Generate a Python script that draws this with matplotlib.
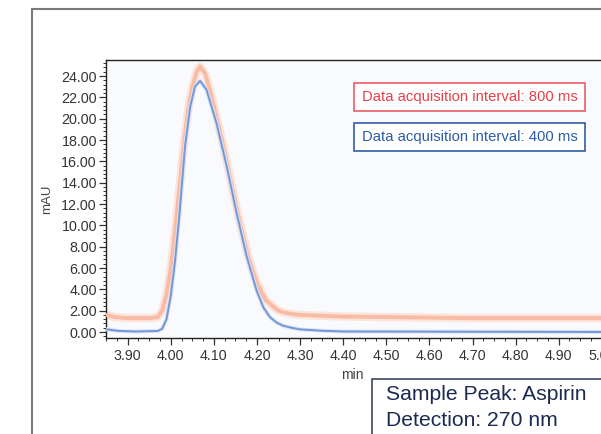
import matplotlib
matplotlib.use("Agg")
import matplotlib.pyplot as plt
from matplotlib.patches import Rectangle
from matplotlib.ticker import MultipleLocator, AutoMinorLocator, FormatStrFormatter

# chromatogram traces (min, mAU)
time_800 = [3.851, 3.87, 3.90, 3.95, 3.97, 3.98, 3.99, 4.00, 4.01, 4.02, 4.03, 4.04,
            4.05, 4.06, 4.068, 4.08, 4.09, 4.10, 4.12, 4.14, 4.16, 4.18, 4.20, 4.22,
            4.24, 4.25, 4.26, 4.28, 4.30, 4.40, 4.50, 4.70, 5.09]
mau_800 = [1.6, 1.4, 1.3, 1.3, 1.4, 2.0, 3.5, 6.0, 9.5, 13.5, 17.5, 20.8,
           23.0, 24.4, 24.9, 24.2, 22.8, 21.2, 17.8, 14.0, 10.3, 7.0, 4.6, 3.0,
           2.3, 2.0, 1.85, 1.7, 1.6, 1.45, 1.4, 1.3, 1.3]

time_400 = [3.851, 3.88, 3.92, 3.97, 3.98, 3.99, 4.00, 4.01, 4.02, 4.033, 4.045, 4.056,
            4.068, 4.083, 4.106, 4.130, 4.153, 4.176, 4.199, 4.215, 4.23, 4.245, 4.26,
            4.28, 4.30, 4.35, 4.40, 5.09]
mau_400 = [0.25, 0.1, 0.05, 0.1, 0.3, 1.2, 3.4, 6.7, 11.0, 17.4, 21.1, 23.0,
           23.55, 22.7, 19.6, 15.5, 11.1, 7.1, 3.9, 2.3, 1.4, 0.9, 0.6,
           0.4, 0.25, 0.12, 0.05, 0.0]

labels = ["Data acquisition interval: 800 ms", "Data acquisition interval: 400 ms"]
note_lines = ["Sample Peak: Aspirin", "Detection: 270 nm"]

plt.rcParams['font.family'] = ['Liberation Sans', 'DejaVu Sans']

W, H = 601, 434
fig = plt.figure(figsize=(W / 100, H / 100), dpi=100)

# outer grey frame (runs off the right and bottom edges)
fig.patches.append(Rectangle((32 / W, -0.1), 1.2, 1 - 9 / H + 0.1, transform=fig.transFigure,
                             fill=False, edgecolor='#7a7a7a', linewidth=1.5))

ax = fig.add_axes([106 / W, (H - 338) / H, (640 - 106) / W, (338 - 60) / H])
ax.set_facecolor('#f8fafd')

# red trace: soft wide halo + core
ax.plot(time_800, mau_800, color='#fde4da', linewidth=6, solid_capstyle='round', zorder=2)
ax.plot(time_800, mau_800, color='#f8bba5', linewidth=2.8, solid_capstyle='round', zorder=3)
# blue trace
ax.plot(time_400, mau_400, color='#dfe1f3', linewidth=2.8, zorder=4)
ax.plot(time_400, mau_400, color='#7199d6', linewidth=1.4, zorder=5)

ax.set_xlim(3.8497, 5.0886)
ax.set_ylim(-0.56, 25.5)

ax.xaxis.set_major_locator(MultipleLocator(0.1))
ax.xaxis.set_minor_locator(AutoMinorLocator(4))
ax.xaxis.set_major_formatter(FormatStrFormatter('%.2f'))
ax.yaxis.set_major_locator(MultipleLocator(2))
ax.yaxis.set_minor_locator(AutoMinorLocator(5))
ax.yaxis.set_major_formatter(FormatStrFormatter('%.2f'))

ax.tick_params(which='major', length=5, width=0.9, color='#333333', labelcolor='#333333',
               labelsize=10.3)
ax.tick_params(which='minor', length=2.5, width=0.7, color='#333333')
ax.tick_params(axis='y', which='major', pad=1.5)
ax.tick_params(axis='x', which='major', pad=3)

for s in ax.spines.values():
    s.set_color('#222222')
    s.set_linewidth(1.0)

ax.set_ylabel('mAU', fontsize=9.5, color='#444444', labelpad=6)
fig.text(352 / W, 1 - 375 / H, 'min', fontsize=10, color='#444444', ha='center', va='center')

# legend boxes
box_style = dict(pad=0.5, fc='white', linewidth=1.1)
fig.text(469.5 / W, 1 - 97 / H, labels[0], fontsize=10.7, color='#e8404a', ha='center',
         va='center', bbox=dict(boxstyle='square', ec='#e8505a', **box_style))
fig.text(469.5 / W, 1 - 137 / H, labels[1], fontsize=10.7, color='#2b5ca8', ha='center',
         va='center', bbox=dict(boxstyle='square', ec='#1f4f9f', **box_style))

# sample info box, clipped by figure edge
fig.patches.append(Rectangle((372 / W, -0.1), 0.5, 1 - 379 / H + 0.1, transform=fig.transFigure,
                             fill=True, facecolor='white', edgecolor='#2a3550', linewidth=1.1,
                             zorder=5))
fig.text(386 / W, 1 - 395 / H, note_lines[0], fontsize=15.2, color='#1c2a52', ha='left',
         va='center', zorder=6)
fig.text(386 / W, 1 - 421 / H, note_lines[1], fontsize=15.2, color='#1c2a52', ha='left',
         va='center', zorder=6)

fig.savefig('out.png', dpi=100)
